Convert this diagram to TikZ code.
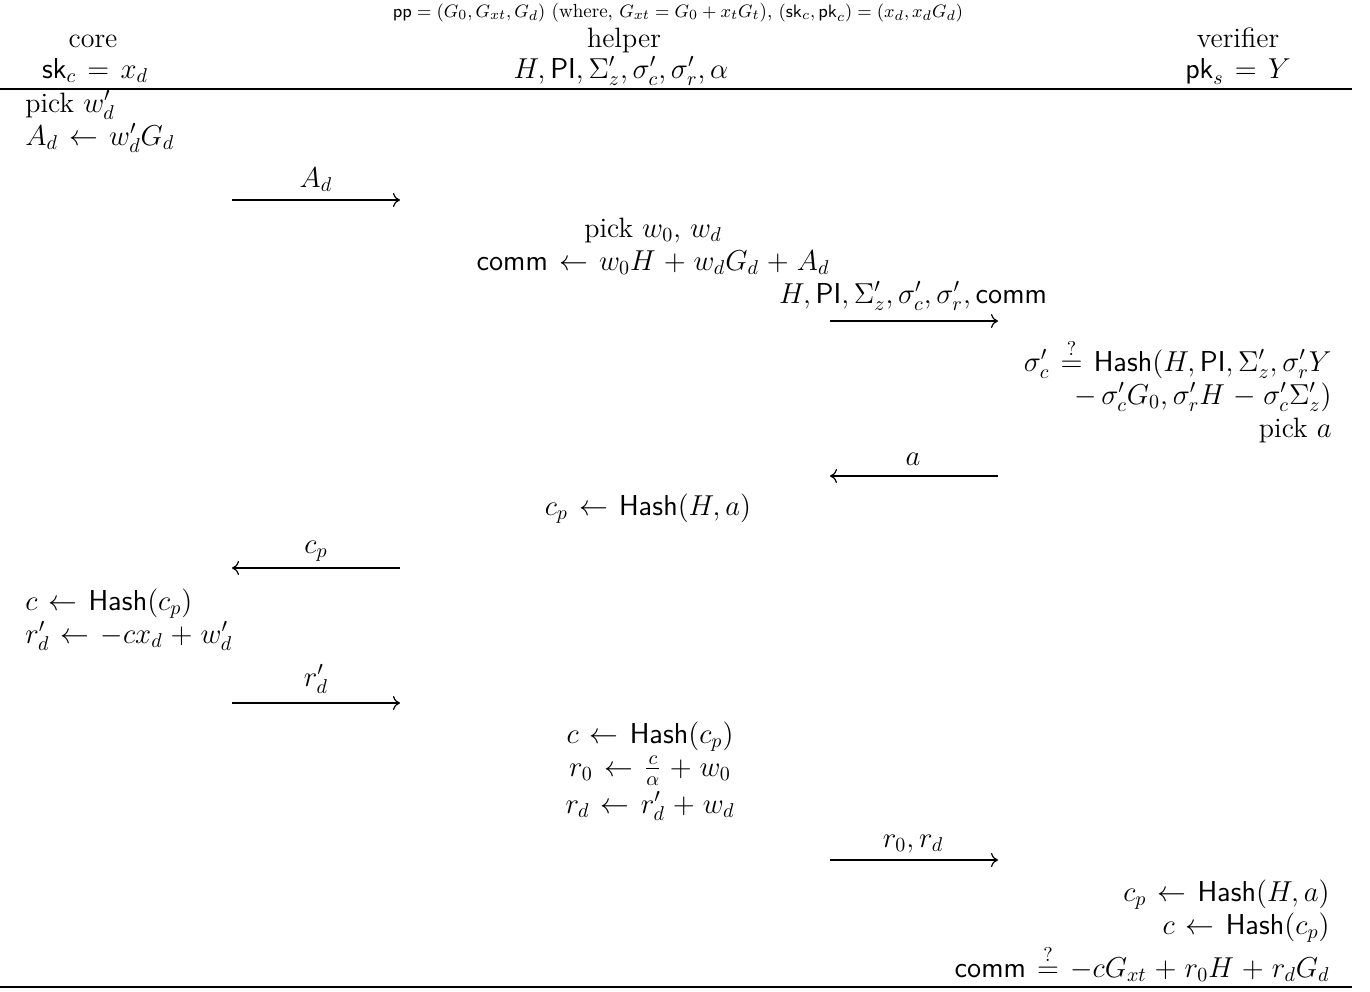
\documentclass[tikz,border=0pt]{standalone}
\usepackage{amsmath, amssymb}
\usepackage{xcolor}
\usepackage{tikz}
\usetikzlibrary{arrows.meta}

\newcommand{\Hsh}{\mathsf{Hash}}
\newcommand{\cmm}{\mathsf{comm}}
\newcommand{\qeq}{\stackrel{?}{=}}
\newcommand{\wideops}{\thickmuskip=7mu plus 2mu\medmuskip=5mu plus 2mu minus 2mu}

\tikzset{
  txt/.style={inner sep=0pt, font=\fontsize{14}{16.5}\selectfont\wideops},
  ctxt/.style={txt, anchor=base, align=center},
  ltxt/.style={txt, anchor=base west, align=left},
  rtxt/.style={txt, anchor=base east, align=right},
  msg/.style={-{To[length=3.5pt, width=7pt]}, line width=0.6pt},
  rule/.style={line width=1pt}
}

\begin{document}
\begin{tikzpicture}[x=0.5pt, y=-0.5pt]
  \useasboundingbox (0,0) rectangle (1370,991);
  % 公共参数
  \node[inner sep=0pt, anchor=base, font=\fontsize{9.5}{11}\selectfont] (pp) at (678,17)
    {$\mathsf{pp} = (G_0, G_{xt}, G_d)$ (where, $G_{xt} = G_0 + x_t G_t$), $(\mathsf{sk}_c, \mathsf{pk}_c) = (x_d, x_d G_d)$};
  % 参与方
  \node[ctxt] (core) at (93,47) {core};
  \node[ctxt] (help) at (624,47) {helper};
  \node[ctxt] (ver) at (1238,47) {verifier};
  \node[ctxt] (coreK) at (95,78) {$\mathsf{sk}_c = x_d$};
  \node[ctxt] (helpK) at (621,78) {$H, \mathsf{PI}, \Sigma'_z, \sigma'_c, \sigma'_r, \alpha$};
  \node[ctxt] (verK) at (1238,78) {$\mathsf{pk}_s = Y$};
  % 横线
  \coordinate (t0) at (0,89);
  \coordinate (t1) at (1352,89);
  \coordinate (b0) at (0,987);
  \coordinate (b1) at (1352,987);
  \draw[rule] (t0) -- (t1);
  \draw[rule] (b0) -- (b1);
  % 消息端点
  \coordinate (a1s) at (232,200);  \coordinate (a1e) at (400,200);
  \coordinate (a2s) at (830,321);  \coordinate (a2e) at (998,321);
  \coordinate (a3s) at (998,476);  \coordinate (a3e) at (830,476);
  \coordinate (a4s) at (400,568);  \coordinate (a4e) at (232,568);
  \coordinate (a5s) at (232,703);  \coordinate (a5e) at (400,703);
  \coordinate (a6s) at (830,860);  \coordinate (a6e) at (998,860);
  % core
  \node[ltxt] (c1) at (25,145) {pick $w'_d$\\ $A_d \leftarrow w'_d G_d$};
  \draw[msg] (a1s) -- (a1e);
  \node[ctxt] (m1) at (316,187) {$A_d$};
  % helper
  \node[ctxt] (h1) at (653,270) {pick $w_0$, $w_d$\\ $\cmm \leftarrow w_0 H + w_d G_d + A_d$};
  \draw[msg] (a2s) -- (a2e);
  \node[ctxt] (m2) at (913,303) {$H, \mathsf{PI}, \Sigma'_z, \sigma'_c, \sigma'_r, \cmm$};
  % verifier
  \node[rtxt] (v1) at (1332,437) {$\sigma'_c \qeq \Hsh(H, \mathsf{PI}, \Sigma'_z, \sigma'_r Y$\\
    $-\, \sigma'_c G_0, \sigma'_r H - \sigma'_c \Sigma'_z)$\\ pick $a$};
  \draw[msg] (a3s) -- (a3e);
  \node[ctxt] (m3) at (913,465) {$a$};
  % helper
  \node[ctxt] (h3) at (648,515) {$c_p \leftarrow \Hsh(H, a)$};
  \draw[msg] (a4s) -- (a4e);
  \node[ctxt] (m4) at (316,553) {$c_p$};
  % core
  \node[ltxt] (c3) at (25,643) {$c \leftarrow \Hsh(c_p)$\\ $r'_d \leftarrow -c x_d + w'_d$};
  \draw[msg] (a5s) -- (a5e);
  \node[ctxt] (m5) at (316,686) {$r'_d$};
  % helper
  \node[ctxt] (h4) at (650,813) {$c \leftarrow \Hsh(c_p)$\\ $r_0 \leftarrow \frac{c}{\alpha} + w_0$\\[2pt] $r_d \leftarrow r'_d + w_d$};
  \draw[msg] (a6s) -- (a6e);
  \node[ctxt] (m6) at (913,847) {$r_0, r_d$};
  % verifier
  \node[rtxt] (v4) at (1330,977) {$c_p \leftarrow \Hsh(H, a)$\\ $c \leftarrow \Hsh(c_p)$\\
    $\cmm \qeq -c G_{xt} + r_0 H + r_d G_d$};
\end{tikzpicture}
\end{document}
